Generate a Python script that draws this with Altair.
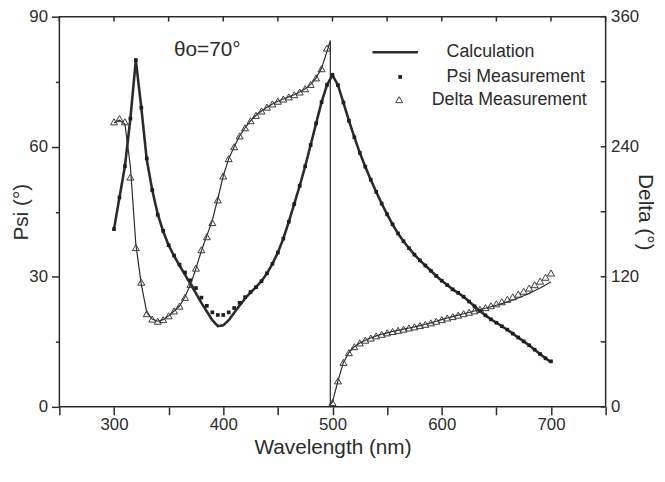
import altair as alt
import pandas as pd

# ---------------- data ----------------
wavelength = list(range(300, 705, 5))

psi_calc = [
    41.0, 48.3, 55.5, 66.5, 80.0, 69.0, 57.0, 50.0, 44.5, 40.5,
    37.3, 34.8, 32.6, 30.5, 28.3, 26.2, 24.0, 22.0, 20.0, 18.6,
    18.8, 20.0, 21.7, 23.4, 25.0, 26.4, 27.6, 29.0, 30.8, 33.0,
    35.6, 38.8, 42.7, 46.8, 51.0, 55.5, 60.4, 65.4, 70.3, 74.3,
    76.5, 74.2, 70.2, 66.0, 62.2, 58.6, 55.4, 52.4, 49.6, 46.9,
    44.4, 42.1, 40.0, 38.2, 36.6, 35.1, 33.8, 32.6, 31.4, 30.2,
    29.1, 28.1, 27.1, 26.3, 25.4, 24.3, 23.2, 22.1, 21.1, 20.2,
    19.4, 18.6, 17.8, 16.9, 16.0, 15.1, 14.2, 13.2, 12.2, 11.2,
    10.3,
]

psi_meas = [
    41.0, 48.3, 55.5, 66.5, 80.0, 69.0, 57.3, 50.0, 44.3, 40.6,
    37.3, 34.9, 32.8, 31.0, 29.2, 27.4, 25.2, 23.3, 21.8, 21.2,
    21.2, 21.8, 22.8, 24.0, 25.3, 26.5, 27.6, 29.0, 30.8, 33.0,
    35.6, 38.8, 42.7, 46.8, 51.0, 55.5, 60.4, 65.4, 70.3, 74.3,
    76.6, 74.2, 70.2, 66.0, 62.2, 58.6, 55.4, 52.4, 49.6, 46.9,
    44.4, 42.1, 40.0, 38.2, 36.6, 35.1, 33.8, 32.6, 31.4, 30.2,
    29.1, 28.1, 27.1, 26.3, 25.4, 24.3, 23.2, 22.1, 21.1, 20.2,
    19.4, 18.6, 17.8, 16.9, 16.0, 15.1, 14.2, 13.2, 12.2, 11.2,
    10.5,
]

delta_meas = [
    263, 266, 263, 212, 147, 115, 86, 81, 79, 80.5,
    84, 88.5, 93, 101, 113, 128, 145, 157, 170, 191,
    213, 229, 240, 250, 257.5, 264, 269, 273, 276.5, 279.5,
    282, 284, 286, 288, 290.5, 293.5, 297.5, 303.5, 312, 331,
    4, 24, 41, 50, 55.5, 59, 61.5, 63.5, 65.5, 67,
    68.3, 69.5, 70.6, 71.7, 72.8, 73.8, 75, 76.2, 77.5, 79,
    80.5, 82, 83.3, 84.6, 86, 87.3, 88.6, 90, 91.6, 93.3,
    95.1, 97, 99.2, 101.5, 104, 106.7, 109.6, 112.7, 116, 119.6,
    123.5,
]

delta_calc_wavelength = list(range(300, 500, 5)) + [498, 498] + list(range(500, 705, 5))
delta_calc = [
    262, 264.5, 261, 222, 150, 113, 87, 81, 79, 80.5,
    84, 88.5, 93, 101.5, 113, 127.5, 144, 158, 172, 192,
    213, 229, 240, 250, 257.5, 264, 269, 273, 276.5, 279.5,
    282, 284, 286, 288, 290.5, 293.5, 297.5, 303.5, 312.5, 328,
    338, 2,
    4.5, 24, 41, 50, 55.5, 59, 61.5, 63.5, 65.5, 67,
    68.3, 69.5, 70.6, 71.7, 72.8, 73.8, 75, 76.2, 77.5, 79,
    80.5, 82, 83.3, 84.6, 85.9, 87.1, 88.4, 89.7, 91.0, 92.4,
    93.8, 95.3, 96.9, 98.6, 100.5, 102.5, 104.7, 107.1, 109.7, 112.5,
    115.5,
]

x_ticks = list(range(250, 800, 50))
psi_ticks = list(range(0, 105, 15))
delta_ticks = list(range(0, 420, 60))
delta_labels = [0, 120, 240, 360]

legend_labels = ["Calculation", "Psi Measurement", "Delta Measurement"]
annotation = ["θo=70°"]

# ---------------- styling ----------------
INK = "#2b2b2b"
FONT = "Liberation Sans"
W, H = 553, 395

psi_df = pd.DataFrame({"wl": wavelength, "calc": psi_calc, "meas": psi_meas})
delta_df = pd.DataFrame({"wl": wavelength, "meas": delta_meas})
delta_calc_df = pd.DataFrame({
    "wl": delta_calc_wavelength,
    "calc": delta_calc,
    "order": list(range(len(delta_calc))),
})
xtick_df = pd.DataFrame({"wl": x_ticks})
dtick_df = pd.DataFrame({"d": delta_ticks})

common_axis = dict(
    labelFont=FONT, titleFont=FONT, labelColor=INK, titleColor=INK,
    titleFontWeight="normal", labelFontSize=17, titleFontSize=21,
    grid=False, domain=False, tickColor=INK, tickWidth=1.5,
)

x_scale = alt.Scale(domain=[250, 750], nice=False, zero=False)
x_axis = alt.Axis(
    values=x_ticks,
    labelExpr="datum.value % 100 === 0 && datum.value >= 300 && datum.value <= 700 ? datum.label : ''",
    tickSize=8, labelPadding=2, titlePadding=4, labelFlush=False,
    **common_axis,
)
x_enc = alt.X("wl:Q", scale=x_scale, axis=x_axis, title="Wavelength (nm)")

psi_scale = alt.Scale(domain=[0, 90], nice=False, zero=False)
psi_axis = alt.Axis(
    orient="left", values=psi_ticks,
    labelExpr="datum.value % 30 === 0 ? datum.label : ''",
    tickSize={"condition": {"test": "datum.value % 30 === 0", "value": 8}, "value": 4},
    labelPadding=4, titlePadding=-3, labelFlush=False,
    **common_axis,
)

delta_scale = alt.Scale(domain=[0, 360], nice=False, zero=False)
delta_axis = alt.Axis(
    orient="right", values=delta_labels, ticks=False,
    labelPadding=5, titlePadding=-4, labelFlush=False,
    **common_axis,
)

psi_y_calc = alt.Y("calc:Q", scale=psi_scale, axis=psi_axis, title="Psi (°)")
psi_y_meas = alt.Y("meas:Q", scale=psi_scale, axis=psi_axis, title="Psi (°)")

psi_line = alt.Chart(psi_df).mark_line(color=INK, strokeWidth=2.6).encode(
    x=x_enc, y=psi_y_calc
)
psi_pts = alt.Chart(psi_df).mark_square(size=14, color="#1e1e1e", opacity=1).encode(
    x=x_enc, y=psi_y_meas
)
psi_group = alt.layer(psi_line, psi_pts)

delta_line = alt.Chart(delta_calc_df).mark_line(color=INK, strokeWidth=1.2).encode(
    x=x_enc,
    y=alt.Y("calc:Q", scale=delta_scale, axis=delta_axis, title="Delta (°)"),
    order="order:Q",
)
delta_pts = alt.Chart(delta_df).mark_point(
    shape="triangle-up", size=50, filled=False, color="#3a3a3a", strokeWidth=1, opacity=1
).encode(
    x=x_enc,
    y=alt.Y("meas:Q", scale=delta_scale, axis=delta_axis, title="Delta (°)"),
)
right_ticks = alt.Chart(dtick_df).mark_rule(color=INK, strokeWidth=1.5).encode(
    y=alt.Y("d:Q", scale=delta_scale, axis=delta_axis, title="Delta (°)"),
    x=alt.value(W - 5), x2=alt.value(W),
)
delta_group = alt.layer(delta_line, delta_pts, right_ticks)

top_ticks = alt.Chart(xtick_df).mark_rule(color=INK, strokeWidth=1.5).encode(
    x=x_enc, y=alt.value(0), y2=alt.value(5)
)

# legend (drawn inside the plot, as in the reference)
leg_line = alt.Chart(pd.DataFrame({"k": [0]})).mark_rule(color=INK, strokeWidth=2.6).encode(
    x=alt.value(317), x2=alt.value(363), y=alt.value(36)
)
leg_sq = alt.Chart(pd.DataFrame({"k": [0]})).mark_square(size=14, color="#1e1e1e", opacity=1).encode(
    x=alt.value(345), y=alt.value(61)
)
leg_tri = alt.Chart(pd.DataFrame({"k": [0]})).mark_point(
    shape="triangle-up", size=50, filled=False, color="#3a3a3a", strokeWidth=1, opacity=1
).encode(x=alt.value(344), y=alt.value(84))

leg_text_df = pd.DataFrame({
    "t": legend_labels,
    "px": [392, 392, 377],
    "py": [36, 61, 84],
})
leg_text = alt.Chart(leg_text_df).mark_text(
    align="left", baseline="middle", font=FONT, fontSize=18, color=INK
).encode(text="t:N", x=alt.X("px:Q", scale=None), y=alt.Y("py:Q", scale=None))

note = alt.Chart(pd.DataFrame({"t": annotation})).mark_text(
    align="left", baseline="middle", font=FONT, fontSize=21, color=INK
).encode(text="t:N", x=alt.value(116), y=alt.value(34))

chart = alt.layer(
    psi_group, delta_group, top_ticks, leg_line, leg_sq, leg_tri, leg_text, note
).resolve_scale(y="independent").properties(
    width=W, height=H,
    autosize=alt.AutoSizeParams(type="none"),
    padding={"left": 52, "top": 6, "right": 52, "bottom": 50},
    background="white",
).configure_view(stroke=INK, strokeWidth=1.5)

chart.save("out.html", embed_options={"renderer": "svg", "actions": False})
